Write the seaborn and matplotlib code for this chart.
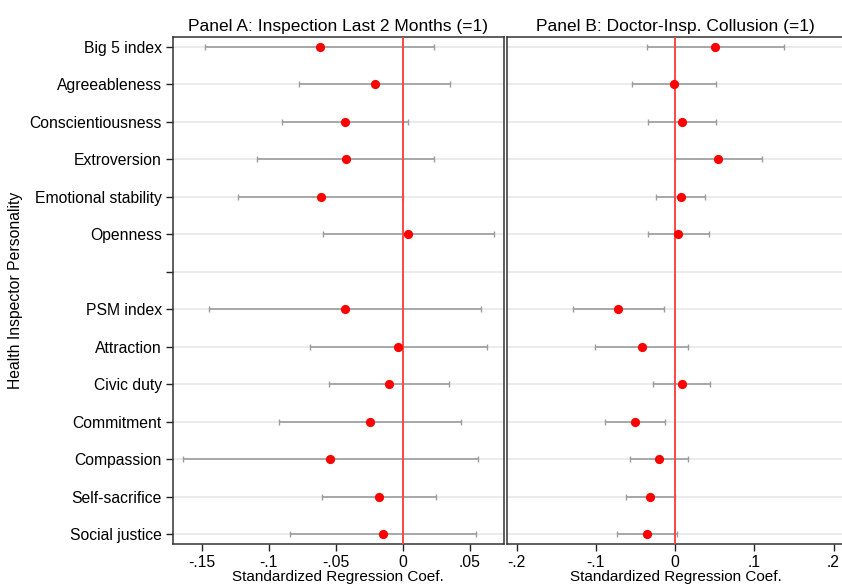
import numpy as np
import pandas as pd
import matplotlib
matplotlib.use("Agg")
import matplotlib.pyplot as plt
import seaborn as sns

# Row labels (blank entry separates the two trait groups)
labels = ["Big 5 index", "Agreeableness", "Conscientiousness", "Extroversion",
          "Emotional stability", "Openness", "",
          "PSM index", "Attraction", "Civic duty", "Commitment",
          "Compassion", "Self-sacrifice", "Social justice"]

# Panel A: Inspection in last 2 months
a_coef = [-0.0617, -0.0209, -0.0433, -0.0425, -0.0612, 0.0042, np.nan,
          -0.0433, -0.0033, -0.0104, -0.0246, -0.0540, -0.0179, -0.0149]
a_lo = [-0.1475, -0.0776, -0.0901, -0.1085, -0.1229, -0.0595, np.nan,
        -0.1446, -0.0689, -0.0548, -0.0925, -0.1642, -0.0602, -0.0843]
a_hi = [0.0236, 0.0355, 0.0037, 0.0234, 0.0000, 0.0679, np.nan,
        0.0587, 0.0627, 0.0343, 0.0433, 0.0560, 0.0246, 0.0547]

# Panel B: Doctor-inspector collusion
b_coef = [0.0509, -0.0013, 0.0093, 0.0547, 0.0072, 0.0042, np.nan,
          -0.0716, -0.0421, 0.0088, -0.0505, -0.0202, -0.0312, -0.0354]
b_lo = [-0.0350, -0.0543, -0.0337, 0.0000, -0.0236, -0.0341, np.nan,
        -0.1288, -0.1006, -0.0274, -0.0888, -0.0572, -0.0619, -0.0728]
b_hi = [0.1372, 0.0513, 0.0522, 0.1098, 0.0379, 0.0425, np.nan,
        -0.0139, 0.0164, 0.0446, -0.0122, 0.0164, 0.0000, 0.0025]

a_ticks = [-0.15, -0.1, -0.05, 0, 0.05]
a_ticklabels = ["-.15", "-.1", "-.05", "0", ".05"]
b_ticks = [-0.2, -0.1, 0, 0.1, 0.2]
b_ticklabels = ["-.2", "-.1", "0", ".1", ".2"]

titles = ["Panel A: Inspection Last 2 Months (=1)",
          "Panel B: Doctor-Insp. Collusion (=1)"]

sns.set_theme(style="white")
plt.rcParams["font.family"] = ["Liberation Sans", "DejaVu Sans"]
plt.rcParams["text.color"] = "black"
plt.rcParams["axes.labelcolor"] = "black"
plt.rcParams["xtick.color"] = "black"
plt.rcParams["ytick.color"] = "black"

fs = 11.3
fig = plt.figure(figsize=(8.42, 5.85), dpi=100)
ax_a = fig.add_axes([0.2055, 0.0696, 0.3927, 0.8677])
ax_b = fig.add_axes([0.6018, 0.0696, 0.4010, 0.8677])

pos = np.arange(len(labels))
panels = [
    (ax_a, a_coef, a_lo, a_hi, (-0.1714, 0.0754), a_ticks, a_ticklabels),
    (ax_b, b_coef, b_lo, b_hi, (-0.2125, 0.2137), b_ticks, b_ticklabels),
]

for i, (ax, coef, lo, hi, xlim, ticks, ticklabels) in enumerate(panels):
    df = pd.DataFrame({"pos": pos, "coef": coef, "lo": lo, "hi": hi}).dropna()

    # horizontal guide lines at every row
    for p in pos:
        ax.axhline(p, color="#e6e6e6", lw=1.1, zorder=0)

    ax.errorbar(df["coef"], df["pos"],
                xerr=[df["coef"] - df["lo"], df["hi"] - df["coef"]],
                fmt="none", ecolor="#9c9c9c", elinewidth=1.2,
                capsize=2.5, capthick=1.0, zorder=2)
    ax.axvline(0, color="#ff4545", lw=1.4, zorder=3)
    sns.scatterplot(data=df, x="coef", y="pos", ax=ax, color="#ff0000",
                    s=44, edgecolor="#ff0000", linewidth=0, zorder=4,
                    legend=False)

    ax.set_xlim(*xlim)
    ax.set_ylim(len(labels) - 1 + 0.27, -0.27)
    ax.set_xticks(ticks)
    ax.set_xticklabels(ticklabels, fontsize=fs)
    ax.set_xlabel("Standardized Regression Coef.", fontsize=11, labelpad=-0.5)
    ax.set_title(titles[i], fontsize=12.5, pad=4)
    ax.set_yticks(pos)
    if i == 0:
        ax.set_yticklabels(labels, fontsize=fs)
        ax.set_ylabel("Health Inspector Personality", fontsize=fs, labelpad=5)
        ax.tick_params(axis="y", left=True, direction="out", length=5,
                       width=1, color="#222222", pad=3)
    else:
        ax.set_yticklabels([])
        ax.set_ylabel("")
        ax.tick_params(axis="y", left=False, length=0)
    ax.tick_params(axis="x", direction="out", length=5, width=1,
                   color="#222222", bottom=True, pad=3)
    for side, sp in ax.spines.items():
        sp.set_color("#333333")
        sp.set_linewidth(1.1)
        sp.set_visible(True)

fig.savefig("out.png", dpi=100)
